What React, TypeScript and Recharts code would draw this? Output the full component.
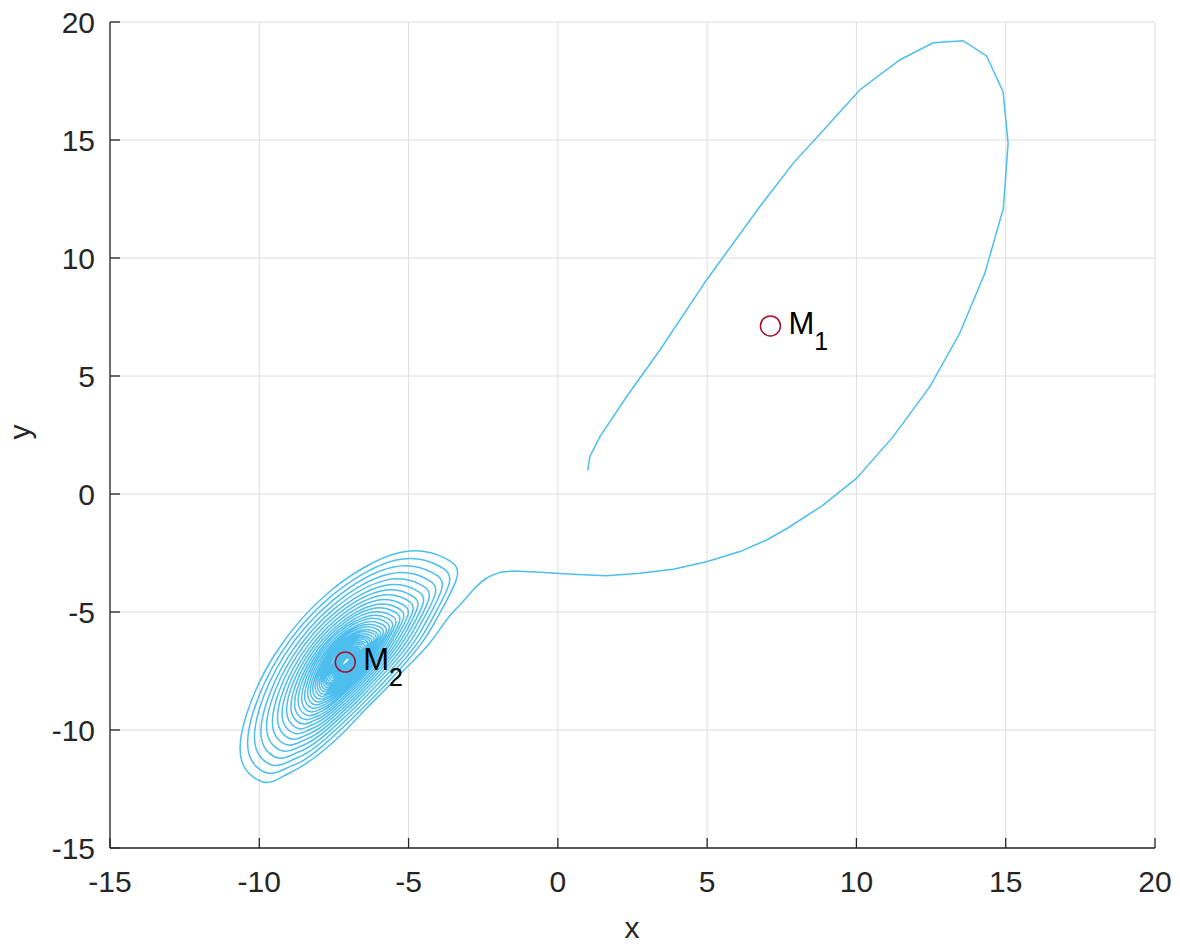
import React from 'react';
import { ScatterChart, Scatter, XAxis, YAxis, CartesianGrid } from 'recharts';

const FONT = '"Liberation Sans", Arial, Helvetica, sans-serif';
const INK = '#262626';
const TRAJ = '#4DBEEE';

const xTicks = [-15, -10, -5, 0, 5, 10, 15, 20];
const yTicks = [-15, -10, -5, 0, 5, 10, 15, 20];

// trajectory from (1,1): big loop round M1, back across to the left
const bigLoop: [number, number][] = [
  [1.0, 1.0], [1.07, 1.58], [1.41, 2.43], [2.3, 4.12], [3.42, 6.1], [4.98, 9.07],
  [6.76, 12.17], [7.88, 14.01], [9.0, 15.56], [10.11, 17.12], [11.45, 18.39],
  [12.57, 19.12], [13.57, 19.21], [14.36, 18.56], [14.91, 17.05], [15.08, 14.86],
  [14.92, 12.1], [14.3, 9.35], [13.46, 6.81], [12.46, 4.55], [11.23, 2.43],
  [10.0, 0.66], [8.84, -0.51], [7.7, -1.44], [6.99, -1.95], [6.1, -2.44],
  [4.98, -2.87], [3.86, -3.19], [2.75, -3.36], [1.63, -3.46], [0.51, -3.4],
  [-0.6, -3.32], [-1.5, -3.26], [-1.94, -3.32],
];

// bend down and run along the lower-right edge of the spiral
const approach: [number, number][] = [
  [-1.94, -3.32], [-2.39, -3.57], [-2.84, -4.07], [-3.28, -4.7], [-3.73, -5.34],
  [-4.29, -6.31], [-5.02, -7.29], [-5.73, -8.22], [-6.43, -9.11],
  [-7.13, -10.04], [-7.87, -10.89], [-8.57, -11.53], [-9.24, -11.99], [-9.88, -12.2],
];

// loops winding in towards M2
const spiralLoops: [number, number][][] = [
  [[-10.58, -11.34], [-10.45, -9.43], [-9.48, -6.8], [-7.64, -4.13], [-5.29, -2.48], [-3.75, -2.74], [-3.38, -3.54]],
  [[-3.99, -5.13], [-5.17, -7.26], [-7.82, -10.61], [-8.97, -11.55], [-9.69, -11.83], [-10.34, -11.04], [-10.21, -9.27], [-9.31, -6.82], [-7.6, -4.34], [-5.42, -2.8], [-3.99, -3.04], [-3.64, -3.79]],
  [[-4.2, -5.27], [-5.3, -7.25], [-7.77, -10.36], [-8.84, -11.24], [-9.51, -11.5], [-10.11, -10.77], [-10.0, -9.12], [-9.16, -6.84], [-7.56, -4.53], [-5.54, -3.1], [-4.2, -3.33], [-3.89, -4.02]],
  [[-4.41, -5.4], [-5.43, -7.24], [-7.72, -10.13], [-8.72, -10.95], [-9.34, -11.19], [-9.9, -10.51], [-9.79, -8.97], [-9.01, -6.86], [-7.53, -4.72], [-5.65, -3.39], [-4.41, -3.59], [-4.11, -4.24]],
  [[-4.6, -5.52], [-5.55, -7.23], [-7.68, -9.92], [-8.6, -10.68], [-9.18, -10.9], [-9.71, -10.27], [-9.61, -8.84], [-8.88, -6.88], [-7.5, -4.88], [-5.75, -3.65], [-4.6, -3.84], [-4.32, -4.44]],
  [[-4.77, -5.63], [-5.66, -7.22], [-7.64, -9.73], [-8.5, -10.43], [-9.04, -10.64], [-9.52, -10.05], [-9.43, -8.72], [-8.76, -6.89], [-7.47, -5.04], [-5.84, -3.89], [-4.77, -4.06], [-4.51, -4.62]],
  [[-4.93, -5.73], [-5.76, -7.21], [-7.6, -9.54], [-8.4, -10.2], [-8.9, -10.39], [-9.35, -9.84], [-9.27, -8.61], [-8.64, -6.91], [-7.45, -5.18], [-5.93, -4.11], [-4.93, -4.28], [-4.7, -4.8]],
  [[-5.08, -5.82], [-5.85, -7.2], [-7.56, -9.37], [-8.31, -9.98], [-8.77, -10.16], [-9.2, -9.65], [-9.12, -8.5], [-8.53, -6.92], [-7.42, -5.31], [-6.01, -4.32], [-5.08, -4.47], [-4.86, -4.96]],
  [[-5.22, -5.91], [-5.94, -7.2], [-7.53, -9.21], [-8.23, -9.78], [-8.66, -9.95], [-9.05, -9.47], [-8.98, -8.41], [-8.43, -6.93], [-7.4, -5.44], [-6.09, -4.51], [-5.23, -4.66], [-5.02, -5.11]],
  [[-5.36, -6.0], [-6.02, -7.19], [-7.5, -9.06], [-8.15, -9.59], [-8.55, -9.74], [-8.91, -9.3], [-8.84, -8.31], [-8.34, -6.95], [-7.38, -5.56], [-6.16, -4.7], [-5.36, -4.83], [-5.17, -5.25]],
  [[-5.48, -6.07], [-6.1, -7.18], [-7.47, -8.93], [-8.07, -9.42], [-8.45, -9.56], [-8.79, -9.15], [-8.72, -8.23], [-8.25, -6.96], [-7.36, -5.66], [-6.23, -4.86], [-5.48, -4.99], [-5.3, -5.38]],
  [[-5.59, -6.15], [-6.17, -7.18], [-7.45, -8.8], [-8.0, -9.26], [-8.35, -9.39], [-8.67, -9.01], [-8.61, -8.15], [-8.17, -6.97], [-7.34, -5.77], [-6.29, -5.02], [-5.59, -5.14], [-5.43, -5.5]],
  [[-5.7, -6.21], [-6.23, -7.17], [-7.42, -8.68], [-7.94, -9.11], [-8.27, -9.23], [-8.56, -8.88], [-8.5, -8.08], [-8.1, -6.98], [-7.33, -5.86], [-6.34, -5.17], [-5.7, -5.27], [-5.54, -5.61]],
  [[-5.8, -6.28], [-6.29, -7.17], [-7.4, -8.57], [-7.88, -8.96], [-8.18, -9.08], [-8.46, -8.75], [-8.4, -8.01], [-8.03, -6.98], [-7.31, -5.95], [-6.4, -5.3], [-5.8, -5.4], [-5.65, -5.72]],
  [[-5.89, -6.33], [-6.35, -7.16], [-7.38, -8.47], [-7.83, -8.83], [-8.11, -8.94], [-8.36, -8.63], [-8.31, -7.94], [-7.96, -6.99], [-7.29, -6.03], [-6.45, -5.43], [-5.89, -5.52], [-5.75, -5.81]],
  [[-5.97, -6.39], [-6.4, -7.16], [-7.36, -8.37], [-7.78, -8.71], [-8.04, -8.81], [-8.27, -8.53], [-8.23, -7.89], [-7.9, -7.0], [-7.28, -6.1], [-6.49, -5.54], [-5.97, -5.63], [-5.85, -5.9]],
  [[-6.05, -6.44], [-6.45, -7.15], [-7.34, -8.28], [-7.73, -8.6], [-7.97, -8.69], [-8.19, -8.43], [-8.15, -7.83], [-7.84, -7.01], [-7.27, -6.17], [-6.53, -5.65], [-6.05, -5.73], [-5.94, -5.99]],
  [[-6.13, -6.48], [-6.5, -7.15], [-7.32, -8.2], [-7.69, -8.49], [-7.91, -8.58], [-8.11, -8.33], [-8.08, -7.78], [-7.79, -7.01], [-7.26, -6.24], [-6.57, -5.76], [-6.13, -5.83], [-6.02, -6.06]],
  [[-6.19, -6.53], [-6.54, -7.15], [-7.31, -8.12], [-7.64, -8.4], [-7.85, -8.48], [-8.04, -8.25], [-8.01, -7.73], [-7.74, -7.02], [-7.25, -6.3], [-6.61, -5.85], [-6.19, -5.92], [-6.09, -6.14]],
  [[-6.26, -6.57], [-6.58, -7.14], [-7.29, -8.05], [-7.61, -8.31], [-7.8, -8.38], [-7.98, -8.17], [-7.94, -7.69], [-7.7, -7.03], [-7.24, -6.35], [-6.64, -5.94], [-6.26, -6.0], [-6.16, -6.2]],
  [[-6.32, -6.6], [-6.61, -7.14], [-7.28, -7.98], [-7.57, -8.22], [-7.75, -8.29], [-7.92, -8.09], [-7.88, -7.65], [-7.66, -7.03], [-7.23, -6.41], [-6.68, -6.02], [-6.32, -6.08], [-6.23, -6.27]],
  [[-6.37, -6.64], [-6.65, -7.14], [-7.27, -7.92], [-7.54, -8.14], [-7.71, -8.21], [-7.86, -8.02], [-7.83, -7.61], [-7.62, -7.04], [-7.22, -6.45], [-6.71, -6.09], [-6.37, -6.15], [-6.29, -6.32]],
  [[-6.42, -6.67], [-6.68, -7.13], [-7.26, -7.87], [-7.51, -8.07], [-7.66, -8.13], [-7.81, -7.96], [-7.78, -7.57], [-7.58, -7.04], [-7.21, -6.5], [-6.73, -6.16], [-6.42, -6.21], [-6.35, -6.38]],
  [[-6.47, -6.7], [-6.71, -7.13], [-7.25, -7.81], [-7.48, -8.01], [-7.63, -8.06], [-7.76, -7.9], [-7.73, -7.54], [-7.55, -7.04], [-7.2, -6.54], [-6.76, -6.23], [-6.47, -6.28], [-6.4, -6.43]],
  [[-6.74, -7.13], [-7.24, -7.76], [-7.59, -8.0], [-7.71, -7.85], [-7.69, -7.51], [-7.19, -6.58], [-6.78, -6.29], [-6.45, -6.47]],
  [[-6.77, -7.13], [-7.22, -7.7], [-7.55, -7.91], [-7.66, -7.78], [-7.64, -7.47], [-7.19, -6.63], [-6.81, -6.36], [-6.51, -6.53]],
  [[-6.8, -7.12], [-7.21, -7.65], [-7.51, -7.84], [-7.61, -7.72], [-7.59, -7.44], [-7.18, -6.67], [-6.84, -6.43], [-6.56, -6.58]],
  [[-6.82, -7.12], [-7.2, -7.6], [-7.47, -7.78], [-7.56, -7.66], [-7.55, -7.41], [-7.17, -6.71], [-6.86, -6.49], [-6.61, -6.63]],
  [[-6.85, -7.12], [-7.19, -7.56], [-7.44, -7.72], [-7.52, -7.61], [-7.51, -7.38], [-7.17, -6.74], [-6.88, -6.54], [-6.65, -6.67]],
  [[-6.87, -7.12], [-7.19, -7.52], [-7.41, -7.66], [-7.48, -7.57], [-7.47, -7.36], [-7.16, -6.77], [-6.9, -6.59], [-6.69, -6.71]],
  [[-6.89, -7.12], [-7.18, -7.48], [-7.38, -7.61], [-7.45, -7.52], [-7.43, -7.33], [-7.15, -6.8], [-6.92, -6.64], [-6.73, -6.74]],
  [[-6.91, -7.12], [-7.17, -7.44], [-7.35, -7.56], [-7.41, -7.48], [-7.4, -7.31], [-7.15, -6.83], [-6.94, -6.68], [-6.77, -6.78]],
  [[-6.93, -7.11], [-7.16, -7.41], [-7.33, -7.51], [-7.38, -7.44], [-7.37, -7.29], [-7.14, -6.86], [-6.95, -6.73], [-6.8, -6.81]],
  [[-6.95, -7.11], [-7.16, -7.38], [-7.3, -7.47], [-7.35, -7.41], [-7.34, -7.27], [-7.14, -6.88], [-6.97, -6.76], [-6.83, -6.84]],
  [[-6.97, -7.11], [-7.15, -7.35], [-7.28, -7.43], [-7.33, -7.38], [-7.32, -7.25], [-7.14, -6.91], [-6.98, -6.8], [-6.86, -6.87]],
  [[-6.98, -7.11], [-7.14, -7.32], [-7.26, -7.4], [-7.3, -7.35], [-7.29, -7.24], [-7.13, -6.93], [-7.0, -6.83], [-6.88, -6.89]],
  [[-6.99, -7.11], [-7.14, -7.29], [-7.24, -7.36], [-7.28, -7.32], [-7.27, -7.22], [-7.13, -6.95], [-7.01, -6.86], [-6.91, -6.92]],
  [[-7.01, -7.11], [-7.13, -7.27], [-7.23, -7.33], [-7.26, -7.29], [-7.25, -7.2], [-7.12, -6.97], [-7.02, -6.89], [-6.93, -6.94]],
  [[-7.02, -7.11], [-7.13, -7.25], [-7.21, -7.3], [-7.24, -7.27], [-7.23, -7.19], [-7.12, -6.98], [-7.03, -6.92], [-6.96, -6.96]],
  [[-7.03, -7.11], [-7.13, -7.22], [-7.19, -7.27], [-7.21, -7.24], [-7.21, -7.18], [-7.12, -7.0], [-7.04, -6.95], [-6.98, -6.98]],
];

const equilibria = [
  { x: 7.12, y: 7.12, name: 'M', sub: '1' },
  { x: -7.12, y: -7.12, name: 'M', sub: '2' },
];

const toPoints = (pts: [number, number][]) => pts.map(([x, y]) => ({ x, y }));
const loopData = toPoints(bigLoop);
const spiralData = toPoints([...approach, ...spiralLoops.flat()]);

const NoDot = () => <g />;

const EquilibriumMarker = (props: any) => {
  const { cx, cy, payload } = props;
  return (
    <g>
      <circle cx={cx} cy={cy} r={10} fill="none" stroke="#A2142F" strokeWidth={1.5} />
      <text x={cx + 18} y={cy + 8} fontSize={31} fontFamily={FONT} fill="#000">
        {payload.name}
        <tspan dy={16} fontSize={25}>{payload.sub}</tspan>
      </text>
    </g>
  );
};

const XTitle = () => (
  <text x={632} y={938} textAnchor="middle" fontSize={30} fontFamily={FONT} fill={INK}>x</text>
);

const YTitle = () => (
  <text x={30} y={432} textAnchor="middle" fontSize={30} fontFamily={FONT} fill={INK} transform="rotate(-90 30 432)">y</text>
);

const axisStroke = { stroke: INK, strokeWidth: 1.3 };
const tickFont = { fill: INK, fontSize: 30, fontFamily: FONT };

export default function App() {
  return (
    <div style={{ position: 'absolute', left: 0, top: 0, fontFamily: FONT }}>
      <ScatterChart width={1180} height={947} margin={{ top: 22, right: 25, bottom: 9, left: 30 }}>
        <CartesianGrid stroke="#dedede" />
        <XAxis
          type="number"
          dataKey="x"
          domain={[-15, 20]}
          ticks={xTicks}
          allowDataOverflow
          interval={0}
          height={90}
          tickSize={-10}
          tickMargin={33}
          axisLine={axisStroke}
          tickLine={axisStroke}
          tick={tickFont}
          label={<XTitle />}
        />
        <XAxis
          xAxisId="top"
          orientation="top"
          type="number"
          dataKey="x"
          domain={[-15, 20]}
          ticks={xTicks}
          allowDataOverflow
          interval={0}
          height={0}
          tickSize={-10}
          axisLine={axisStroke}
          tickLine={axisStroke}
          tick={false}
        />
        <YAxis
          type="number"
          dataKey="y"
          domain={[-15, 20]}
          ticks={yTicks}
          allowDataOverflow
          interval={0}
          width={80}
          tickSize={-10}
          tickMargin={25}
          axisLine={axisStroke}
          tickLine={axisStroke}
          tick={tickFont}
          label={<YTitle />}
        />
        <YAxis
          yAxisId="right"
          orientation="right"
          type="number"
          dataKey="y"
          domain={[-15, 20]}
          ticks={yTicks}
          allowDataOverflow
          interval={0}
          width={0}
          tickSize={-10}
          axisLine={axisStroke}
          tickLine={axisStroke}
          tick={false}
        />
        <Scatter
          xAxisId="top"
          yAxisId="right"
          data={loopData}
          line={{ stroke: TRAJ, strokeWidth: 1.5 }}
          lineJointType="linear"
          fill={TRAJ}
          shape={NoDot}
          isAnimationActive={false}
        />
        <Scatter
          data={spiralData}
          line={{ stroke: TRAJ, strokeWidth: 1.5 }}
          lineJointType="natural"
          fill={TRAJ}
          shape={NoDot}
          isAnimationActive={false}
        />
        <Scatter data={equilibria} shape={EquilibriumMarker} isAnimationActive={false} />
      </ScatterChart>
    </div>
  );
}
